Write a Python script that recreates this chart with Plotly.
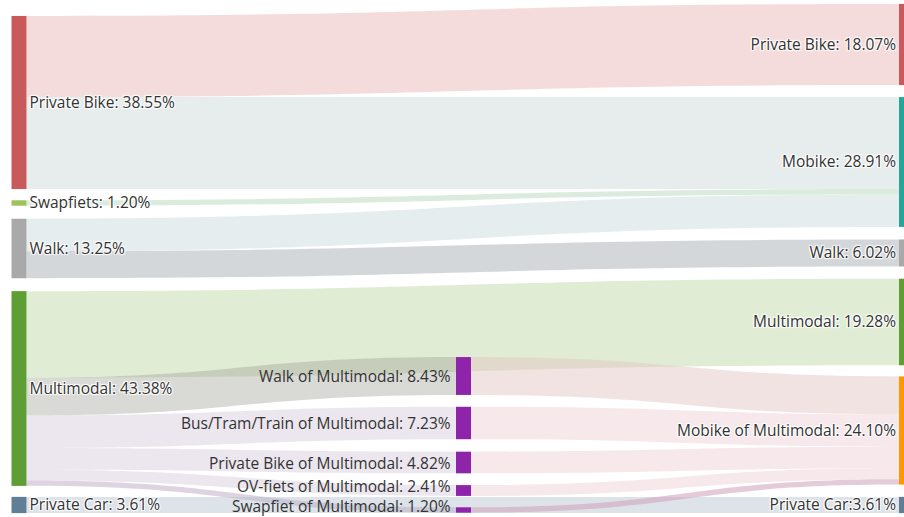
import plotly.graph_objects as go

# Node labels
left_nodes = ["Private Bike: 38.55%", "Swapfiets: 1.20%", "Walk: 13.25%",
              "Multimodal: 43.38%", "Private Car: 3.61%"]
mid_nodes = ["Walk of Multimodal: 8.43%", "Bus/Tram/Train of Multimodal: 7.23%",
             "Private Bike of Multimodal: 4.82%", "OV-fiets of Multimodal: 2.41%",
             "Swapfiet of Multimodal: 1.20%"]
right_nodes = ["Private Bike: 18.07%", "Mobike: 28.91%", "Walk: 6.02%",
               "Multimodal: 19.28%", "Mobike of Multimodal: 24.10%", "Private Car:3.61%"]

# Flows (counts out of 83 respondents)
sources = [0, 0, 1, 2, 2, 3, 3, 3, 3, 3, 3, 4, 5, 6, 7, 8, 9]
targets = [10, 11, 11, 11, 12, 13, 5, 6, 7, 8, 9, 15, 14, 14, 14, 14, 14]
values = [15, 17, 1, 6, 5, 16, 7, 6, 4, 2, 1, 3, 7, 6, 4, 2, 1]

node_colors = ["#c95a5b", "#9cc45c", "#a9a9a9", "#5f9e35", "#5e7f95",
               "#8e24aa", "#8e24aa", "#8e24aa", "#8e24aa", "#8e24aa",
               "#c95a5b", "#26a69a", "#a9a9a9", "#5f9e35", "#ff9800", "#5e7f95"]

link_colors = ["rgba(222,140,140,0.30)", "rgba(212,222,220,0.55)", "rgba(190,220,195,0.55)",
               "rgba(210,222,224,0.55)", "rgba(170,175,182,0.50)", "rgba(160,200,125,0.33)",
               "rgba(160,160,150,0.40)", "rgba(218,205,222,0.50)", "rgba(218,205,222,0.50)",
               "rgba(218,205,222,0.50)", "rgba(190,170,195,0.50)", "rgba(170,185,200,0.40)",
               "rgba(225,200,195,0.50)", "rgba(238,210,215,0.50)", "rgba(238,210,215,0.50)",
               "rgba(238,210,215,0.50)", "rgba(205,160,185,0.55)"]

W, H = 904, 517
T, B = 4, 4
PH = H - T - B
FONT = dict(family="Open Sans, Noto Sans, sans-serif", size=15.5, color="#333333")

node_x_px = [19] * 5 + [463.5] * 5 + [906.5] * 6
node_y_px = [102.5, 203, 248.5, 388.5, 505,
             376, 423, 462.5, 490.5, 510,
             44.5, 162, 253, 322, 430.5, 505]
# vertical centres of the middle-column label texts
mid_label_y_px = [376, 423, 462.5, 485.5, 505.5]

node_x = [x / W for x in node_x_px]
node_y = [(y - T) / PH for y in node_y_px]

# middle-column labels are drawn as annotations to the left of their nodes
labels = left_nodes + [""] * len(mid_nodes) + right_nodes

fig = go.Figure(go.Sankey(
    arrangement="fixed",
    node=dict(label=labels, color=node_colors, pad=12, thickness=15,
              line=dict(width=0), x=node_x, y=node_y),
    link=dict(source=sources, target=targets, value=values, color=link_colors),
    textfont=FONT,
    hoverinfo="none",
))

for i, txt in enumerate(mid_nodes):
    ypx = mid_label_y_px[i]
    fig.add_annotation(text=txt, xref="paper", yref="paper",
                       x=(node_x_px[5 + i] - 7.5 - 4) / W, y=1 - (ypx - T) / PH,
                       xanchor="right", yanchor="middle", showarrow=False,
                       borderpad=0, font=FONT)

fig.update_layout(width=W, height=H, margin=dict(l=0, r=0, t=T, b=B),
                  paper_bgcolor="white", plot_bgcolor="white")
fig.write_html("out.html")
